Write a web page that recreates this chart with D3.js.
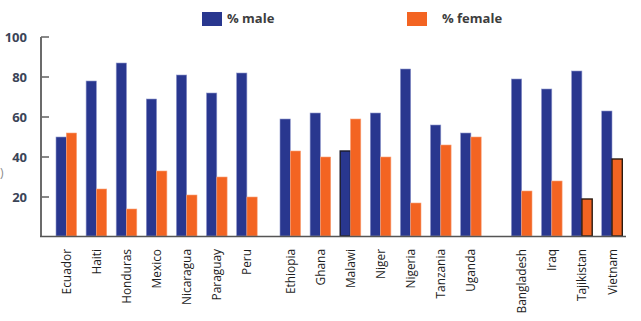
<!DOCTYPE html>
<html><head><meta charset="utf-8">
<script src="https://cdn.jsdelivr.net/npm/d3@7/dist/d3.min.js"></script>
<style>
html,body{margin:0;padding:0;background:#fff;}
svg{display:block;}
</style></head>
<body>
<svg id="chart" width="641" height="321"></svg>
<script>
const countries = ["Ecuador","Haiti","Honduras","Mexico","Nicaragua","Paraguay","Peru",
  "Ethiopia","Ghana","Malawi","Niger","Nigeria","Tanzania","Uganda",
  "Bangladesh","Iraq","Tajikistan","Vietnam"];
const groups = [0,0,0,0,0,0,0, 1,1,1,1,1,1,1, 2,2,2,2];
const male   = [50,78,87,69,81,72,82, 59,62,43,62,84,56,52, 79,74,83,63];
const female = [52,24,14,33,21,30,20, 43,40,59,40,17,46,50, 23,28,19,39];
const outlinedMale = ["Malawi"];
const outlinedFemale = ["Tajikistan","Vietnam"];
const yTicks = [20,40,60,80,100];
const seriesNames = ["% male","% female"];
const colors = ["#29378f","#f36422"];

const svg = d3.select("#chart");
const y = d3.scaleLinear().domain([0,100]).range([237,37]);
const slot = d3.scaleLinear().domain([0,17]).range([56, 56 + 17*30.1]);
const groupGap = [0, 13.3, 34];
const bw = 10.3;
const xOf = i => slot(i) + groupGap[groups[i]];

// y axis
const axisG = svg.append("g").attr("transform","translate(41,0)");
axisG.append("line").attr("x1",0).attr("x2",0).attr("y1",y(100)).attr("y2",236.5)
  .attr("stroke","#6b6b6b").attr("stroke-width",2);
axisG.selectAll("line.tick").data(yTicks).join("line").attr("class","tick")
  .attr("x1",0).attr("x2",8).attr("y1",d=>y(d)).attr("y2",d=>y(d))
  .attr("stroke","#6b6b6b").attr("stroke-width",1.6);
svg.selectAll("text.ytick").data(yTicks).join("text").attr("class","ytick")
  .attr("x",27).attr("y",d=>y(d)+5).attr("text-anchor","end")
  .attr("font-family","'Open Sans', sans-serif").attr("font-weight",700).attr("font-size",13)
  .attr("fill","#3b4457").text(d=>d);
svg.append("text").attr("x",0).attr("y",177).attr("text-anchor","start")
  .attr("font-family","'Open Sans', sans-serif").attr("font-size",12).attr("fill","#8a8a8a").text(")");

// bars
const bars = svg.append("g");
bars.selectAll("rect.m").data(countries).join("rect").attr("class","m")
  .attr("x",(d,i)=>xOf(i)).attr("width",bw)
  .attr("y",(d,i)=>y(male[i])).attr("height",(d,i)=>236-y(male[i]))
  .attr("fill",colors[0])
  .attr("stroke",d=>outlinedMale.includes(d)?"#1a1a2a":"#8f97cc")
  .attr("stroke-width",d=>outlinedMale.includes(d)?1.4:0.6);
bars.selectAll("rect.f").data(countries).join("rect").attr("class","f")
  .attr("x",(d,i)=>xOf(i)+bw).attr("width",bw)
  .attr("y",(d,i)=>y(female[i])).attr("height",(d,i)=>236-y(female[i]))
  .attr("fill",colors[1])
  .attr("stroke",d=>outlinedFemale.includes(d)?"#2a1a10":"#f9a27a")
  .attr("stroke-width",d=>outlinedFemale.includes(d)?1.4:0.6);

// baseline
svg.append("line").attr("x1",40).attr("x2",626).attr("y1",236.5).attr("y2",236.5)
  .attr("stroke","#555").attr("stroke-width",1.6);

// country labels
svg.selectAll("text.cat").data(countries).join("text").attr("class","cat")
  .attr("transform",(d,i)=>`translate(${xOf(i)+bw+4.5},249) rotate(-90) scale(0.88,1)`)
  .attr("text-anchor","end")
  .attr("font-family","'Liberation Sans Narrow','Arial Narrow','Open Sans',sans-serif")
  .attr("font-size",13.5).attr("fill","#1e1e1e").text(d=>d);

// legend
const legX = [202, 407], legTX = [227, 442];
const leg = svg.selectAll("g.leg").data(seriesNames).join("g").attr("class","leg");
leg.append("rect").attr("x",(d,i)=>legX[i]).attr("y",12).attr("width",20).attr("height",14)
  .attr("fill",(d,i)=>colors[i]);
leg.append("text").attr("x",(d,i)=>legTX[i]).attr("y",23)
  .attr("font-family","'Open Sans', sans-serif").attr("font-weight",700).attr("font-size",13)
  .attr("fill","#3d3d3d").text(d=>d);
</script>
</body></html>
